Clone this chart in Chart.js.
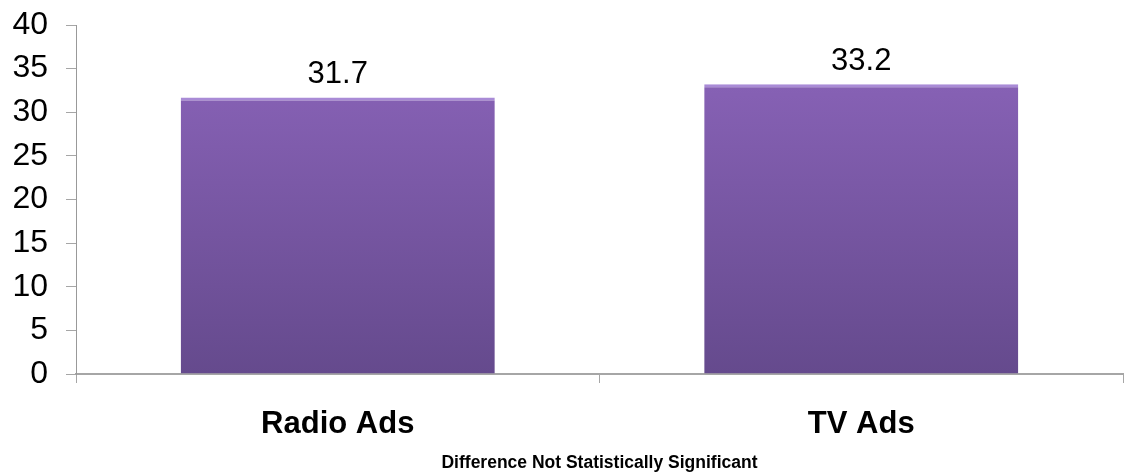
<!DOCTYPE html>
<html>
<head>
<meta charset="utf-8">
<script src="https://cdn.jsdelivr.net/npm/chart.js@4.4.1/dist/chart.umd.min.js"></script>
<style>
  html, body { margin: 0; padding: 0; background: #fff; }
  #wrap { width: 1129px; height: 474px; position: relative; }
</style>
</head>
<body>
<div id="wrap"><canvas id="chart"></canvas></div>
<script>
const categories = ['Radio Ads', 'TV Ads'];
const values = [31.7, 33.2];
const footnote = 'Difference Not Statistically Significant';

const fontFamily = '"Liberation Sans", Arial, Helvetica, sans-serif';
const axisGray = '#a6a6a6';

function barFill(context) {
  const chart = context.chart;
  const area = chart.chartArea;
  if (!area) return '#7657a3';
  const g = chart.ctx.createLinearGradient(0, area.top, 0, area.bottom);
  g.addColorStop(0, '#8d67bd');
  g.addColorStop(0.2, '#8560b3');
  g.addColorStop(1, '#654a8d');
  return g;
}

// value labels above each bar
const valueLabels = {
  id: 'valueLabels',
  afterDatasetsDraw(chart) {
    const ctx = chart.ctx;
    const meta = chart.getDatasetMeta(0);
    ctx.save();
    ctx.font = '31px ' + fontFamily;
    ctx.fillStyle = '#000';
    ctx.textAlign = 'center';
    ctx.textBaseline = 'alphabetic';
    meta.data.forEach((bar, i) => {
      ctx.fillText(values[i].toFixed(1), bar.x, bar.y - 14);
    });
    ctx.restore();
  }
};

new Chart(document.getElementById('chart'), {
  type: 'bar',
  data: {
    labels: categories,
    datasets: [{
      data: values,
      backgroundColor: barFill,
      borderColor: '#a98bd6',
      borderWidth: { top: 3, left: 0, right: 0, bottom: 0 },
      borderSkipped: 'bottom',
      barPercentage: 1,
      categoryPercentage: 0.6
    }]
  },
  options: {
    responsive: true,
    maintainAspectRatio: false,
    animation: false,
    layout: { padding: { top: 25, right: 6, bottom: 0, left: 0 } },
    plugins: {
      legend: { display: false },
      tooltip: { enabled: false },
      title: {
        display: true,
        position: 'bottom',
        fullSize: false,
        text: footnote,
        color: '#000',
        font: { family: fontFamily, size: 17.5, weight: 'bold' },
        padding: { top: 2, bottom: 0 }
      }
    },
    scales: {
      x: {
        afterFit(scale) { scale.height = 77; },
        grid: {
          display: true,
          drawOnChartArea: false,
          drawTicks: true,
          tickLength: 9,
          color: axisGray,
          offset: true
        },
        border: { color: axisGray, width: 2 },
        ticks: {
          color: '#000',
          padding: 23,
          font: { family: fontFamily, size: 31, weight: 'bold' }
        }
      },
      y: {
        min: 0,
        max: 40,
        afterFit(scale) {
          scale.width = 76;
          scale.paddingTop = 0;
          scale.paddingBottom = 0;
        },
        grid: {
          display: true,
          drawOnChartArea: false,
          drawTicks: true,
          tickLength: 10,
          color: axisGray
        },
        border: { color: '#999999', width: 1 },
        ticks: {
          stepSize: 5,
          color: '#000',
          padding: 18,
          font: { family: fontFamily, size: 32 }
        }
      }
    }
  },
  plugins: [valueLabels]
});
</script>
</body>
</html>
